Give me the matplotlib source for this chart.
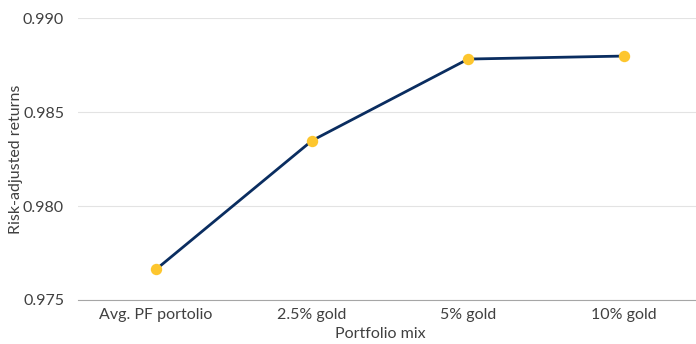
import matplotlib.pyplot as plt

mixes = ["Avg. PF portolio", "2.5% gold", "5% gold", "10% gold"]
returns = [0.97663, 0.98349, 0.98783, 0.98799]
y_ticks = [0.975, 0.980, 0.985, 0.990]

plt.rcParams['font.family'] = ['Lato', 'DejaVu Sans']

fig = plt.figure(figsize=(6.96, 3.44), dpi=100)
ax = fig.add_axes([78 / 696, 1 - 300 / 344, 618 / 696, (300 - 18.3) / 344])

x = range(len(mixes))
ax.plot(x, returns, color="#0a2d60", lw=2.0, zorder=2)
ax.plot(x, returns, "o", color="#fdc62e", ms=8.2, mec="none", zorder=3)

ax.set_xlim(-0.5, 3.46)
ax.set_ylim(0.975, 0.990)
ax.set_xticks(list(x))
ax.set_xticklabels(mixes)
ax.set_yticks(y_ticks)
ax.set_yticklabels([f"{t:.3f}" for t in y_ticks])
ax.tick_params(length=0, labelsize=11.5, colors="#404040", pad=10)
ax.tick_params(axis="x", pad=6)

ax.grid(axis="y", color="#e3e3e3", lw=0.8)
ax.set_axisbelow(True)
for side in ["top", "right", "left"]:
    ax.spines[side].set_visible(False)
ax.spines["bottom"].set_color("#a6a6a6")

ax.set_xlabel("Portfolio mix", fontsize=11.5, color="#404040")
ax.set_ylabel("Risk-adjusted returns", fontsize=11.5, color="#404040")
# place axis titles at fixed spots below / left of the plot area
ax.xaxis.set_label_coords(0.5 + (380 - 387) / 618, -(334 - 300) / 281.7)
ax.yaxis.set_label_coords(-(78 - 16) / 618, (300 - 159) / 281.7)
ax.xaxis.label.set_va("center")
ax.yaxis.label.set_va("center")

fig.savefig("out.png", dpi=100)
